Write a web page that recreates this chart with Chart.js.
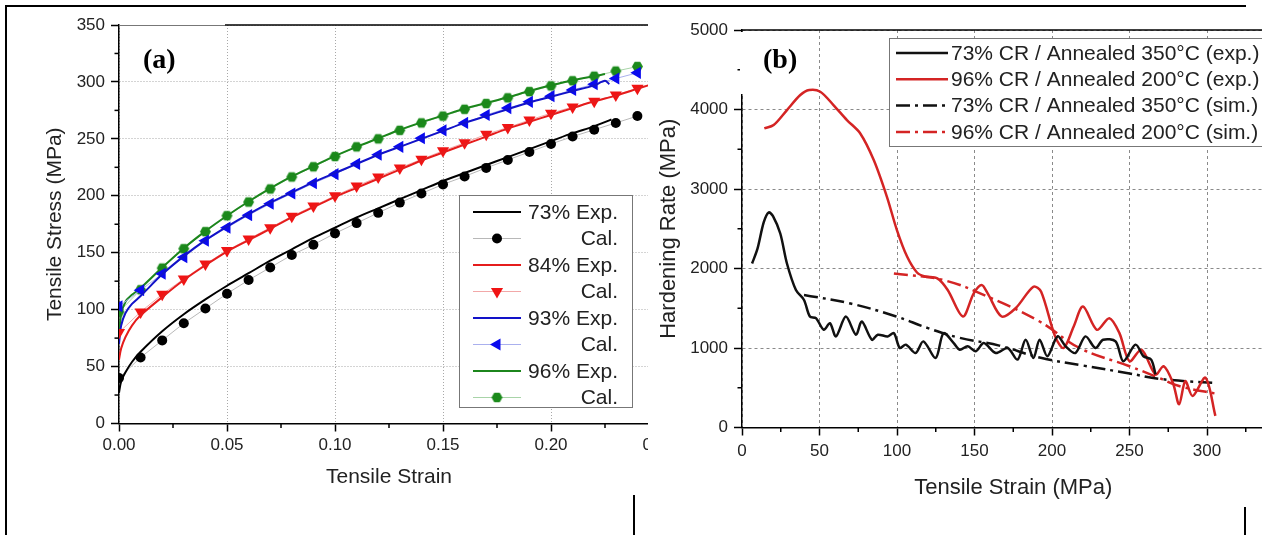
<!DOCTYPE html>
<html>
<head>
<meta charset="utf-8">
<script src="https://cdn.jsdelivr.net/npm/chart.js"></script>
<style>
body { margin:0; background:#fff; width:1265px; height:535px; overflow:hidden; position:relative; }
canvas { display:block; }
.panel { position:absolute; overflow:hidden; background:#fff; }
#pa { left:8px; top:8px; width:640px; height:500px; }
#pb { left:648px; top:8px; width:614px; height:500px; }
.rule { position:absolute; background:#000; }
</style>
</head>
<body>
<div class="panel" id="pa"><canvas id="chartA" width="680" height="500"></canvas></div>
<div class="panel" id="pb"><canvas id="chartB" width="700" height="500"></canvas></div>
<div class="rule" style="left:5px;top:5px;width:2px;height:530px"></div>
<div class="rule" style="left:5px;top:5px;width:1241px;height:2px"></div>
<div class="rule" style="left:633px;top:495px;width:2px;height:40px"></div>
<div class="rule" style="left:1244px;top:507px;width:2px;height:28px"></div>
<script>
// ---- panel (a): tensile stress vs strain ----
const calStrain = [0, 0.01, 0.02, 0.03, 0.04, 0.05, 0.06, 0.07, 0.08, 0.09, 0.10, 0.11, 0.12,
                   0.13, 0.14, 0.15, 0.16, 0.17, 0.18, 0.19, 0.20, 0.21, 0.22, 0.23, 0.24];
const cal73 = [40, 58, 73, 88, 101, 114, 126, 137, 148, 157, 167, 176, 185, 194, 202, 210, 217, 224.5, 231.5, 238.5, 245.5, 252, 258, 264, 270];
const cal84 = [80, 98, 113.5, 127, 140, 152, 162, 172, 182, 191, 200, 208.5, 216.5, 224.5, 232, 239.5, 246.5, 254, 260, 266.5, 272.5, 278, 283, 288.5, 294.5];
const cal93 = [103, 117, 131.5, 146, 160.5, 172, 183, 193, 202, 211, 219, 228, 236, 243, 250.5, 257.5, 264, 271, 277, 282.5, 287.5, 293, 298, 303, 308];
const cal96 = [98, 117.5, 136.5, 153.5, 168.5, 182.5, 194.5, 206, 216.5, 225.5, 234.5, 243, 250, 257.5, 264, 270, 276, 281, 286, 291.5, 296.5, 301, 305, 309.5, 313.5];

const exp73Strain = [0, 0.001, 0.003, 0.006, 0.01, 0.02, 0.03, 0.04, 0.05, 0.06, 0.07, 0.08, 0.09, 0.10,
                     0.11, 0.12, 0.13, 0.14, 0.15, 0.16, 0.17, 0.18, 0.19, 0.20, 0.21, 0.22, 0.228];
const exp73Stress = [27, 37, 45, 54, 63, 81, 96, 109, 121, 132, 143, 153, 163, 172, 181, 189, 197, 205, 213, 220, 227, 234, 241, 248, 255, 261, 267];
const exp84Strain = [0, 0.001, 0.003, 0.006, 0.01, 0.02, 0.03, 0.04, 0.05, 0.06, 0.07, 0.08, 0.09, 0.10,
                     0.11, 0.12, 0.13, 0.14, 0.15, 0.16, 0.17, 0.18, 0.19, 0.20, 0.21, 0.22, 0.23, 0.24, 0.245];
const exp84Stress = [56, 66, 76, 86, 95, 111, 126, 139, 151, 161, 171, 181, 190, 199, 207, 215, 223, 231, 238, 245, 252, 259, 265, 271, 277, 283, 288, 294, 297];
const exp93Strain = [0, 0.001, 0.003, 0.006, 0.01, 0.02, 0.03, 0.04, 0.05, 0.06, 0.07, 0.08, 0.09, 0.10,
                     0.11, 0.12, 0.13, 0.14, 0.15, 0.16, 0.17, 0.18, 0.19, 0.20, 0.21, 0.22, 0.225, 0.227];
const exp93Stress = [70, 86, 97, 105, 112, 131, 147, 161, 173, 184, 194, 203, 212, 220, 228, 236, 243, 250, 257, 264, 270, 276, 282, 287, 292, 297, 301, 298];
const exp96Strain = [0, 0.001, 0.003, 0.006, 0.01, 0.02, 0.03, 0.04, 0.05, 0.06, 0.07, 0.08, 0.09, 0.10,
                     0.11, 0.12, 0.13, 0.14, 0.15, 0.16, 0.17, 0.18, 0.19, 0.20, 0.21, 0.22, 0.225];
const exp96Stress = [76, 96, 107, 113, 119, 137, 154, 169, 182.5, 195, 206.5, 217, 226, 235, 243, 250.5, 258, 264.5, 270.5, 276.5, 281.5, 286.5, 292, 297, 301.5, 305, 307];

// ---- panel (b): hardening rate ----
const exp350X = [6.5, 10, 14, 17.2, 20, 24.7, 29, 34.8, 40, 43.8, 47.7, 52.8, 56.7, 60.6, 67, 73.5, 77.3, 83.8, 87.6, 94,
                 98, 101.8, 105.7, 112, 117, 125, 130, 136.6, 140.5, 145.6, 150.8, 156, 163.7, 171.4, 177.8, 183, 188, 192, 197, 203.6,
                 208.8, 215, 221.6, 228, 233, 241, 246, 253.9, 259, 264, 266.8];
const exp350Y = [2063, 2250, 2580, 2705, 2660, 2440, 2063, 1729, 1604, 1396, 1375, 1229, 1312, 1146, 1396, 1167, 1333, 1104, 1167, 1146,
                 1187, 1000, 1042, 937, 1083, 875, 1187, 1062, 979, 1021, 958, 1062, 937, 1000, 854, 1104, 875, 1104, 896, 1146,
                 1021, 937, 1146, 1000, 1104, 1083, 833, 1042, 896, 854, 667];
const exp200X = [14.4, 20.4, 29, 37.6, 43.4, 50.5, 59, 67.7, 76.3, 85, 93.5, 100, 106.5, 112.9, 118, 126, 132.7, 142.5, 149.5, 154.6,
                 158.5, 167.5, 176.5, 188, 193, 202, 207.5, 214, 220, 229, 237, 243.5, 250, 257.7, 266.8, 272, 278, 282, 286, 290.7, 299, 305.4];
const exp200Y = [3762, 3804, 3993, 4182, 4245, 4224, 4056, 3867, 3699, 3364, 2902, 2480, 2150, 1950, 1900, 1875, 1729, 1396, 1687, 1792,
                 1687, 1396, 1500, 1771, 1708, 1146, 1000, 1271, 1521, 1229, 1375, 1187, 833, 979, 667, 771, 563, 292, 583, 396, 625, 146];
const sim350X = [40, 70, 99, 120, 140, 166, 192, 220, 250, 270, 305];
const sim350Y = [1667, 1560, 1400, 1250, 1130, 1030, 880, 780, 680, 610, 560];
const sim200X = [98, 130, 158.5, 192, 217.8, 250, 269, 282, 308];
const sim200Y = [1937, 1854, 1646, 1333, 1000, 771, 625, 521, 417];

Chart.defaults.font.family = "'Liberation Sans', Arial, sans-serif";
Chart.defaults.color = '#222';

function pts(xs, ys) { return xs.map((x, i) => ({x: x, y: ys[i]})); }

function hexagon(color, r) {
    const c = document.createElement('canvas');
    c.width = c.height = 2 * r + 2;
    const g = c.getContext('2d');
    g.fillStyle = color;
    g.beginPath();
    for (let k = 0; k < 6; k++) {
        const a = k * Math.PI / 3;
        const px = r + 1 + Math.cos(a) * r, py = r + 1 + Math.sin(a) * r;
        k ? g.lineTo(px, py) : g.moveTo(px, py);
    }
    g.closePath();
    g.fill();
    return c;
}

function expSet(label, xs, ys, color) {
    return { label: label, data: pts(xs, ys), borderColor: color, backgroundColor: color,
             borderWidth: 2, pointRadius: 0, tension: 0.3 };
}
function calSet(label, ys, lineColor, color, style, rot, r) {
    return { label: label, data: pts(calStrain, ys), borderColor: lineColor, backgroundColor: color,
             borderWidth: 1, pointStyle: style, pointRotation: rot, pointRadius: r,
             pointBackgroundColor: color, pointBorderColor: color, pointBorderWidth: 0, tension: 0 };
}

function drawMarker(ctx, ds, x, y) {
    const st = ds.pointStyle, r = ds.pointRadius;
    if (st instanceof HTMLCanvasElement) { ctx.drawImage(st, x - st.width / 2, y - st.height / 2); return; }
    ctx.fillStyle = ds.pointBackgroundColor;
    ctx.beginPath();
    if (st === 'triangle') {
        let a = (ds.pointRotation || 0) * Math.PI / 180;
        for (let k = 0; k < 3; k++) {
            const px = x + Math.sin(a) * r, py = y - Math.cos(a) * r;
            k ? ctx.lineTo(px, py) : ctx.moveTo(px, py);
            a += 2 * Math.PI / 3;
        }
        ctx.closePath();
    } else {
        ctx.arc(x, y, r, 0, 2 * Math.PI);
    }
    ctx.fill();
}

// minor ticks, top frame, panel letter and the boxed legend
const decor = {
    id: 'decor',
    afterDraw(chart, args, o) {
        const ctx = chart.ctx, area = chart.chartArea;
        const xs = chart.scales.x, ys = chart.scales.y;
        ctx.save();
        ctx.strokeStyle = '#000';
        ctx.lineWidth = 1.5;
        for (let v = o.minorX; v < xs.max; v += o.stepX) {
            const px = xs.getPixelForValue(v);
            ctx.beginPath(); ctx.moveTo(px, area.bottom); ctx.lineTo(px, area.bottom + 4.5); ctx.stroke();
        }
        for (let v = o.minorY; v < ys.max; v += o.stepY) {
            const py = ys.getPixelForValue(v);
            ctx.beginPath(); ctx.moveTo(area.left, py); ctx.lineTo(area.left - 4.5, py); ctx.stroke();
        }
        // top frame (the part under the letter box is fainter)
        const lt = o.lightTop || 0;
        ctx.beginPath(); ctx.moveTo(area.left + lt, area.top); ctx.lineTo(area.right, area.top); ctx.stroke();
        if (lt) {
            ctx.fillStyle = '#fff';
            ctx.fillRect(area.left + 1, area.top - 1, lt - 1, 2.5);
            ctx.strokeStyle = '#777';
            ctx.lineWidth = 1;
            ctx.beginPath(); ctx.moveTo(area.left, area.top + 0.5); ctx.lineTo(area.left + lt, area.top + 0.5); ctx.stroke();
        }
        if (o.gap) {
            ctx.fillStyle = '#fff';
            ctx.fillRect(area.left - 2, area.top + 2, 4, o.gap);
        }
        // panel letter
        ctx.fillStyle = '#000';
        ctx.font = 'bold 28px "Liberation Serif", "Times New Roman", serif';
        ctx.textBaseline = 'middle';
        ctx.textAlign = 'left';
        ctx.fillText(o.letter, o.letterX, o.letterY);
        // legend
        const L = o.legend;
        ctx.fillStyle = '#fff';
        ctx.fillRect(L.x, L.y, L.w, L.h);
        ctx.strokeStyle = '#777';
        ctx.lineWidth = 1;
        ctx.strokeRect(L.x + 0.5, L.y + 0.5, L.w, L.h);
        ctx.font = '21px "Liberation Sans", Arial, sans-serif';
        ctx.textAlign = L.align;
        chart.data.datasets.forEach((ds, i) => {
            const y = L.row0 + i * L.rowH;
            ctx.save();
            ctx.strokeStyle = ds.borderColor;
            ctx.lineWidth = ds.borderWidth;
            ctx.setLineDash(ds.borderDash || []);
            ctx.beginPath(); ctx.moveTo(L.s0, y); ctx.lineTo(L.s1, y); ctx.stroke();
            ctx.restore();
            if (ds.pointRadius > 0) drawMarker(ctx, ds, (L.s0 + L.s1) / 2, y);
            ctx.fillStyle = '#222';
            ctx.fillText(ds.label, L.tx, y + 1);
        });
        ctx.restore();
    }
};

function axis(min, max, step, fixed, tickPad, title, titleSize, titlePad, gridColor, dash, fmt, isX) {
    return {
        type: 'linear', min: min, max: max,
        afterFit(s) {
            if (isX) s.height = fixed; else s.width = fixed;
            s.paddingLeft = 0; s.paddingRight = 0; s.paddingTop = 0; s.paddingBottom = 0;
        },
        ticks: { stepSize: step, padding: tickPad, color: '#222', font: {size: 17}, maxRotation: 0, autoSkip: false,
                 callback: fmt },
        grid: { color: gridColor, lineWidth: 1, tickLength: 8, tickColor: '#000', tickWidth: 1.5 },
        border: { color: '#000', width: 1.5, dash: dash },
        title: { display: true, text: title, color: '#222', font: {size: titleSize}, padding: titlePad }
    };
}

new Chart(document.getElementById('chartA'), {
    type: 'line',
    data: {
        datasets: [
            expSet('73% Exp.', exp73Strain, exp73Stress, '#000000'),
            calSet('Cal.', cal73, '#b8b8b8', '#000000', 'circle', 0, 5),
            expSet('84% Exp.', exp84Strain, exp84Stress, '#e51c1c'),
            calSet('Cal.', cal84, '#f2a8a8', '#f01414', 'triangle', 180, 7),
            expSet('93% Exp.', exp93Strain, exp93Stress, '#1212c8'),
            calSet('Cal.', cal93, '#aab0ee', '#0a0aee', 'triangle', -90, 7),
            expSet('96% Exp.', exp96Strain, exp96Stress, '#1c861c'),
            calSet('Cal.', cal96, '#a8d4a8', '#1b8a1b', hexagon('#1b8a1b', 5.5), 0, 5.5)
        ]
    },
    options: {
        responsive: false,
        animation: false,
        layout: { padding: { left: 0, top: 17, right: 29, bottom: 0 } },
        plugins: {
            legend: { display: false },
            tooltip: { enabled: false },
            decor: { minorX: 0.025, stepX: 0.05, minorY: 25, stepY: 50, letter: '(a)', letterX: 135, letterY: 53, lightTop: 106,
                     legend: { x: 451, y: 187, w: 173, h: 212, row0: 204, rowH: 26.5, s0: 465, s1: 513, tx: 610, align: 'right' } }
        },
        scales: {
            x: axis(0, 0.25, 0.05, 84.5, 4, 'Tensile Strain', 21, {top: 0, bottom: 18}, '#a8a8a8', [1, 2], v => v.toFixed(2), true),
            y: axis(0, 350, 50, 111, 6, 'Tensile Stress (MPa)', 21, {top: 35, bottom: 0}, '#a8a8a8', [1, 2], v => v, false)
        }
    },
    plugins: [decor]
});

const dashDot = [14, 5, 3, 5];
new Chart(document.getElementById('chartB'), {
    type: 'line',
    data: {
        datasets: [
            { label: '73% CR / Annealed 350°C (exp.)', data: pts(exp350X, exp350Y), borderColor: '#111111', borderWidth: 2.5, pointRadius: 0, tension: 0.3 },
            { label: '96% CR / Annealed 200°C (exp.)', data: pts(exp200X, exp200Y), borderColor: '#d42424', borderWidth: 2.5, pointRadius: 0, tension: 0.3 },
            { label: '73% CR / Annealed 350°C (sim.)', data: pts(sim350X, sim350Y), borderColor: '#111111', borderWidth: 2.5, pointRadius: 0, tension: 0.4, borderDash: dashDot },
            { label: '96% CR / Annealed 200°C (sim.)', data: pts(sim200X, sim200Y), borderColor: '#d42424', borderWidth: 2.5, pointRadius: 0, tension: 0.4, borderDash: dashDot }
        ]
    },
    options: {
        responsive: false,
        animation: false,
        layout: { padding: { left: 0, top: 22, right: 63.5, bottom: 0 } },
        plugins: {
            legend: { display: false },
            tooltip: { enabled: false },
            decor: { minorX: 25, stepX: 50, minorY: 500, stepY: 1000, letter: '(b)', letterX: 115, letterY: 53, gap: 62,
                     legend: { x: 241, y: 30, w: 500, h: 108, row0: 45, rowH: 26.3, s0: 248, s1: 300, tx: 303, align: 'left' } }
        },
        scales: {
            x: axis(0, 350, 50, 80.5, 6, 'Tensile Strain (MPa)', 22, {top: 0, bottom: 7}, '#8a8a8a', [3, 3], v => v, true),
            y: axis(0, 5000, 1000, 94, 6, 'Hardening Rate (MPa)', 22, {top: 8, bottom: 0}, '#8a8a8a', [3, 3], v => v, false)
        }
    },
    plugins: [decor]
});
</script>
</body>
</html>
